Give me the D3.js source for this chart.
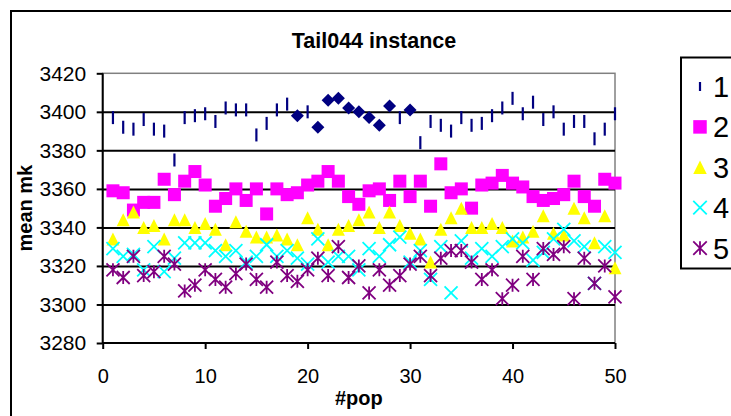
<!DOCTYPE html>
<html>
<head>
<meta charset="utf-8">
<script src="https://cdn.jsdelivr.net/npm/d3@7"></script>
<style>
  html, body { margin: 0; padding: 0; background: #fff; }
  svg { display: block; }
  text { font-family: "Liberation Sans", Arial, sans-serif; }
</style>
</head>
<body>
<svg id="chart" width="731" height="416"></svg>
<script>
// ---- data ----
const pops = d3.range(1, 51);
const seriesNames = ["1", "2", "3", "4", "5"];
const s1 = [3397,3392,3391,3396,3391,3390,3375,3397,3398,3399,3395,3402,3401,3401,3388,3394,3401,3404,3398,3400,3392,3406,3407,3402,3400,3397,3393,3403,3397,3401,3384,3395,3393,3390,3397,3393,3394,3398,3402,3407,3399,3405,3396,3400,3391,3395,3395,3386,3391,3399];
const s2 = [3359,3358,3349,3353,3353,3365,3357,3364,3369,3362,3351,3355,3360,3354,3360,3347,3360,3357,3358,3362,3364,3369,3364,3356,3352,3359,3360,3354,3364,3356,3364,3351,3373,3358,3360,3350,3362,3363,3367,3363,3361,3356,3354,3355,3357,3364,3356,3351,3365,3363];
const s3 = [3334,3344,3348,3340,3341,3334,3344,3344,3340,3342,3339,3331,3343,3338,3335,3335,3336,3334,3331,3345,3339,3331,3339,3341,3344,3348,3340,3348,3341,3337,3334,3322,3339,3345,3350,3340,3340,3342,3340,3333,3335,3338,3346,3337,3336,3350,3345,3332,3346,3319];
const s4 = [3329,3325,3326,3318,3330,3317,3324,3332,3332,3332,3328,3325,3328,3322,3325,3331,3325,3328,3324,3321,3334,3322,3325,3325,3318,3329,3325,3331,3335,3322,3328,3313,3330,3306,3333,3324,3329,3325,3330,3334,3332,3323,3327,3334,3339,3333,3330,3311,3330,3327];
const s5 = [3318,3314,3325,3315,3317,3325,3321,3307,3310,3318,3313,3309,3316,3321,3313,3309,3322,3315,3312,3318,3324,3315,3330,3314,3320,3306,3318,3310,3315,3321,3325,3315,3324,3328,3328,3322,3313,3318,3303,3310,3325,3313,3329,3326,3330,3303,3324,3311,3320,3304];
// points of series 1 that are drawn with a diamond marker
const s1DiamondPops = [19,21,22,23,24,25,26,27,28,30];
const xTicks = [0,10,20,30,40,50];
const yTicks = [3280,3300,3320,3340,3360,3380,3400,3420];

const seriesValues = [s1, s2, s3, s4, s5];
const colors = ["#000080", "#FF00FF", "#FFFF00", "#00FFFF", "#800080"];
const markers = ["dash", "square", "triangle", "x", "star"];

// ---- layout ----
const svg = d3.select("#chart");
const plot = { left: 102.7, right: 615, top: 73.3, bottom: 343 };
const x = d3.scaleLinear().domain([0, 50]).range([plot.left, plot.right]);
const y = d3.scaleLinear().domain([3280, 3420]).range([plot.bottom, plot.top]);

// chart border
svg.append("rect").attr("x", 11).attr("y", 11).attr("width", 760).attr("height", 440)
  .attr("fill", "#fff").attr("stroke", "#000").attr("stroke-width", 2);

// title
svg.append("text").attr("x", 374).attr("y", 48).attr("text-anchor", "middle")
  .attr("font-size", 21.5).attr("font-weight", "bold").text("Tail044 instance");

// plot frame (top & right gray)
svg.append("rect").attr("x", plot.left).attr("y", plot.top)
  .attr("width", plot.right - plot.left).attr("height", plot.bottom - plot.top)
  .attr("fill", "none").attr("stroke", "#808080").attr("stroke-width", 1.5);

// gridlines
const grid = svg.append("g").attr("transform", `translate(${plot.left},0)`)
  .call(d3.axisLeft(y).tickValues(yTicks.filter(v => v > 3280 && v < 3420))
    .tickSize(-(plot.right - plot.left)).tickFormat(""));
grid.select(".domain").remove();
grid.selectAll(".tick line").attr("stroke", "#000").attr("stroke-width", 2);

// y axis
const yAxis = svg.append("g").attr("transform", `translate(${plot.left},0)`)
  .call(d3.axisLeft(y).tickValues(yTicks).tickSize(6).tickPadding(10.5).tickFormat(d3.format("d")));
yAxis.select(".domain").attr("stroke", "#000").attr("stroke-width", 2).attr("d", `M0,${plot.top}V${plot.bottom}`);
yAxis.selectAll(".tick line").attr("stroke", "#000").attr("stroke-width", 2);
yAxis.selectAll(".tick text").attr("font-size", 21).attr("fill", "#000")
  .attr("font-family", '"Liberation Sans", Arial, sans-serif');

// x axis
const xAxis = svg.append("g").attr("transform", `translate(0,${plot.bottom})`)
  .call(d3.axisBottom(x).tickValues(xTicks).tickSize(6).tickPadding(19.5).tickFormat(d3.format("d")));
xAxis.select(".domain").attr("stroke", "#000").attr("stroke-width", 2).attr("d", `M${plot.left},0H${plot.right}`);
xAxis.selectAll(".tick line").attr("stroke", "#000").attr("stroke-width", 2);
xAxis.selectAll(".tick text").attr("font-size", 20).attr("fill", "#000")
  .attr("font-family", '"Liberation Sans", Arial, sans-serif');

// axis titles
svg.append("text").attr("x", (plot.left + plot.right) / 2).attr("y", 405).attr("text-anchor", "middle")
  .attr("font-size", 20).attr("font-weight", "bold").text("#pop");
svg.append("text").attr("transform", `translate(31.5,${(plot.top + plot.bottom) / 2}) rotate(-90)`)
  .attr("text-anchor", "middle").attr("font-size", 20).attr("font-weight", "bold").text("mean mk");

// ---- markers ----
function drawMarker(g, type, color, s) {
  const h = s / 2;
  if (type === "dash") {
    g.append("line").attr("x1", 0).attr("x2", 0).attr("y1", -h).attr("y2", h)
      .attr("stroke", color).attr("stroke-width", 2.2);
  } else if (type === "diamond") {
    g.append("path").attr("d", `M0,${-h}L${h},0L0,${h}L${-h},0Z`).attr("fill", color);
  } else if (type === "square") {
    g.append("rect").attr("x", -h).attr("y", -h).attr("width", s).attr("height", s).attr("fill", color);
  } else if (type === "triangle") {
    g.append("path").attr("d", `M0,${-h}L${h},${h}L${-h},${h}Z`).attr("fill", color);
  } else if (type === "x") {
    g.append("path").attr("d", `M${-h},${-h}L${h},${h}M${h},${-h}L${-h},${h}`)
      .attr("stroke", color).attr("stroke-width", 1.8).attr("fill", "none");
  } else if (type === "star") {
    g.append("path").attr("d", `M${-h},${-h}L${h},${h}M${h},${-h}L${-h},${h}M0,${-h}L0,${h}`)
      .attr("stroke", color).attr("stroke-width", 1.8).attr("fill", "none");
  }
}

const pts = svg.append("g");
seriesValues.forEach((vals, si) => {
  const g = pts.append("g");
  vals.forEach((v, i) => {
    const p = pops[i];
    let type = markers[si];
    if (si === 0 && s1DiamondPops.includes(p)) type = "diamond";
    const mg = g.append("g").attr("transform", `translate(${x(p)},${y(v)})`);
    drawMarker(mg, type, colors[si], type === "dash" ? 13 : 13);
  });
});

// ---- legend ----
const lg = svg.append("g");
lg.append("rect").attr("x", 681).attr("y", 57.5).attr("width", 120).attr("height", 211)
  .attr("fill", "#fff").attr("stroke", "#000").attr("stroke-width", 2);
seriesNames.forEach((name, i) => {
  const cy = 86.5 + 40.4 * i;
  const mg = lg.append("g").attr("transform", `translate(700,${cy})`);
  drawMarker(mg, markers[i], colors[i], markers[i] === "dash" ? 9 : 13.5);
  lg.append("text").attr("x", 713).attr("y", cy).attr("dy", "0.36em")
    .attr("font-size", 29).text(name);
});
</script>
</body>
</html>
